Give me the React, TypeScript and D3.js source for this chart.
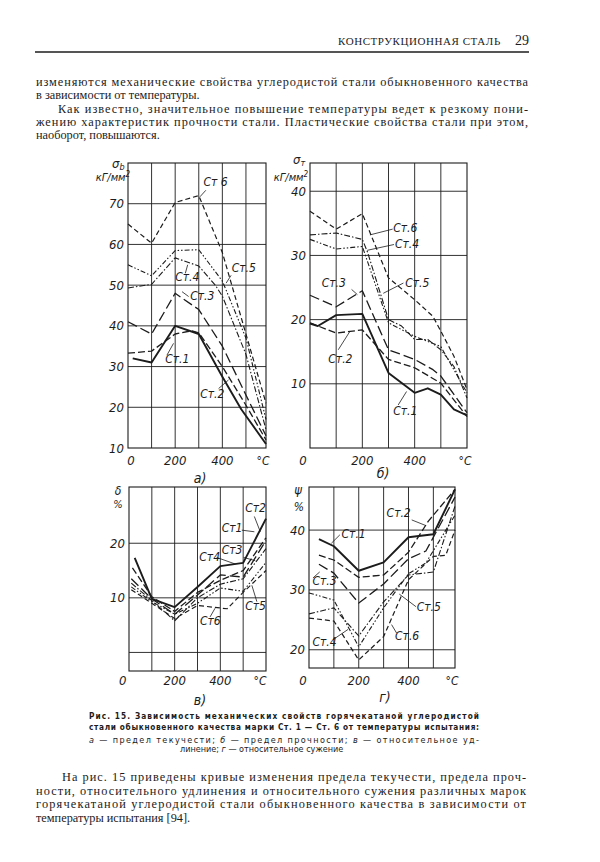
import React from "react";
import * as d3 from "d3";

type Pt = [number, number];

// ---------- data ----------
const steelNames = ["Ст1", "Ст2", "Ст3", "Ст4", "Ст5", "Ст6"];

// a) σb, kG/mm² vs °C
const sigmaBSeries: Pt[][] = [
  [[20, 32], [100, 31], [200, 40], [300, 38], [400, 27.5], [480, 19.5], [585, 11]],
  [[0, 33.3], [100, 33.8], [200, 38], [270, 38.8], [300, 38.3], [400, 30], [500, 20.5], [585, 12]],
  [[0, 41], [100, 38], [200, 48], [300, 44], [400, 35], [500, 23], [585, 13]],
  [[0, 49.3], [100, 50.2], [200, 56.7], [300, 54.7], [370, 50], [400, 47.3], [500, 33], [585, 14.5]],
  [[0, 55], [100, 52.3], [200, 58.5], [300, 58.7], [400, 51], [500, 37], [585, 17]],
  [[0, 65], [100, 60.3], [200, 70.3], [300, 72], [400, 58], [500, 38], [585, 21]],
];
const sigmaBTicks = [10, 20, 30, 40, 50, 60, 70];

// б) σт
const sigmaTSeries: Pt[][] = [
  [[0, 19.4], [30, 19], [100, 20.7], [200, 20.9], [300, 11.7], [400, 8.6], [450, 9.3], [500, 8.3], [550, 6], [600, 5.1]],
  [[0, 19.5], [100, 17.9], [200, 18.4], [300, 13.8], [400, 12.5], [500, 10.1], [600, 4.9]],
  [[0, 23.8], [100, 22], [200, 24.5], [300, 15.3], [400, 13.8], [470, 12.2], [500, 11.2], [600, 5.5]],
  [[0, 33.2], [100, 33.5], [200, 32.5], [220, 30.5], [300, 20], [350, 19], [400, 16.9], [450, 16.9], [500, 15.3], [550, 12.7], [600, 7.8]],
  [[0, 32.5], [100, 31], [200, 31.4], [300, 19.5], [400, 17.4], [500, 15.8], [600, 8.6]],
  [[0, 36.9], [100, 34.1], [200, 36.5], [300, 26.5], [400, 23.1], [470, 20.5], [500, 18.2], [550, 14.3], [600, 9.1]],
];
const sigmaTTicks = [10, 20, 30, 40];

// в) δ, %
const deltaSeries: Pt[][] = [
  [[25, 17.3], [100, 9.8], [200, 8.3], [300, 12], [400, 15.8], [500, 16.4], [600, 24.5]],
  [[15, 15.5], [100, 10.2], [200, 7.5], [300, 11], [400, 13.2], [500, 15], [600, 21]],
  [[10, 13.5], [100, 9.8], [200, 7], [300, 10.5], [400, 14.2], [500, 13.8], [600, 20.5]],
  [[10, 12.7], [100, 9.5], [200, 5.8], [300, 10], [400, 12.5], [500, 13.5], [600, 19]],
  [[10, 12], [100, 9.3], [200, 7], [300, 9], [400, 11.8], [500, 11.2], [600, 16.5]],
  [[10, 11.5], [100, 9], [200, 6.2], [300, 8.6], [430, 8], [500, 11], [600, 15]],
];
const deltaTicks = [10, 20];
const deltaGrid = [0, 10, 20];

// г) ψ, %
const psiSeries: Pt[][] = [
  [[40, 38.5], [100, 37.3], [200, 33.2], [300, 34.6], [400, 38.8], [500, 39.3], [587, 46.8]],
  [[40, 35.8], [100, 35], [200, 32.1], [300, 32.5], [400, 36.3], [480, 41.5], [587, 46.8]],
  [[40, 34.3], [100, 32.8], [200, 27.8], [300, 31], [400, 35.2], [470, 36.5], [587, 45.5]],
  [[0, 26], [100, 27], [200, 22.3], [300, 28], [400, 32.5], [500, 33], [587, 44]],
  [[0, 29.5], [100, 28.3], [200, 20.5], [300, 27], [400, 32.7], [470, 34.5], [587, 42.5]],
  [[0, 25.3], [100, 24.8], [200, 18.3], [300, 22.2], [400, 31.7], [500, 35.6], [550, 35.8], [587, 40]],
];
const psiTicks = [20, 30, 40];

const tempTickLabels = [200, 400];
const tempGrid = [100, 200, 300, 400, 500];

// labels: [text, textT, textV, leaderT1, leaderV1, leaderT2, leaderV2]
type Ann = [string, number, number, number, number, number, number];
const sigmaBLabels: Ann[] = [
  ["Ст 6", 320, 74.3, 330, 73.3, 305, 71.7],
  ["Ст.5", 440, 53.3, 437, 52.4, 416, 50.5],
  ["Ст.4", 200, 50.9, 243, 52.9, 253, 55],
  ["Ст.3", 264, 46.4, 257, 47.2, 229, 48.4],
  ["Ст.1", 158, 30.8, 165, 32.8, 193, 35.7],
  ["Ст.2", 306, 22.2, 384, 24.6, 426, 26.7],
];
const sigmaTLabels: Ann[] = [
  ["Ст.6", 318, 33.6, 316, 34.1, 229, 33.2],
  ["Ст.4", 325, 31.2, 321, 31.7, 219, 30.8],
  ["Ст.3", 45, 25.1, 159, 24.7, 181, 23.9],
  ["Ст.5", 364, 25.1, 357, 25.7, 280, 24.1],
  ["Ст.2", 70, 13.2, 108, 15.3, 153, 18.2],
  ["Ст.1", 318, 5.2, 337, 6.7, 369, 8.8],
];
const deltaLabels: Ann[] = [
  ["Ст2", 509, 25.8, 549, 24.9, 575, 22.1],
  ["Ст1", 406, 22.1, 494, 22.4, 549, 22.1],
  ["Ст3", 406, 18, 502, 17.4, 553, 16.8],
  ["Ст4", 308, 16.8, 384, 17.4, 465, 16.2],
  ["Ст5", 509, 7.8, 560, 9.3, 538, 12.3],
  ["Ст6", 311, 5.0, 355, 6.5, 377, 8.1],
];
const psiLabels: Ann[] = [
  ["Ст.1", 131, 38.6, 124, 39.2, 90, 37.8],
  ["Ст.2", 312, 42.2, 413, 41.7, 467, 40.8],
  ["Ст.3", 14, 30.8, 16, 32, 43, 33],
  ["Ст.4", 14, 20.6, 97, 21.7, 157, 23.4],
  ["Ст.5", 433, 26.4, 430, 27.2, 363, 29.3],
  ["Ст.6", 346, 21.7, 352, 22.8, 332, 24.2],
];

const topParagraph = [
  "изменяются механические свойства углеродистой стали обыкновенного качества",
  "в зависимости от температуры.",
  "Как известно, значительное повышение температуры ведет к резкому пони-",
  "жению характеристик прочности стали. Пластические свойства стали при этом,",
  "наоборот, повышаются.",
];
const bottomParagraph = [
  "На рис. 15 приведены кривые изменения предела текучести, предела проч-",
  "ности, относительного удлинения и относительного сужения различных марок",
  "горячекатаной углеродистой стали обыкновенного качества в зависимости от",
  "температуры испытания [94].",
];

// ---------- styles ----------
const INK = "#1c1c1c";
const dashes = ["", "7,3", "10,4", "6,2,1.5,2", "5,2,1.5,2,1.5,2", "5,3"];
const widths = [1.9, 1.3, 1.3, 1.1, 1.1, 1.2];
const chartFont = "'Liberation Sans Narrow', 'DejaVu Sans Condensed', 'Liberation Sans', sans-serif";
const serif = "'Liberation Serif', 'DejaVu Serif', serif";

type PanelProps = {
  left: number; top: number; width: number; height: number;
  xMax: number; yDomain: [number, number];
  series: Pt[][]; yTicks: number[]; yGrid: number[];
  labels: Ann[];
  zeroX: number; degX: number; xLabelY: number;
  yLabel: React.ReactNode; unitLabel: React.ReactNode;
  letter: string; letterX: number; letterY: number;
};

function Panel(p: PanelProps) {
  const x = d3.scaleLinear().domain([0, p.xMax]).range([p.left, p.left + p.width]);
  const y = d3.scaleLinear().domain(p.yDomain).range([p.top + p.height, p.top]);
  const line = d3.line<Pt>().x((d) => x(d[0])).y((d) => y(d[1]));
  return (
    <g>
      <rect x={p.left} y={p.top} width={p.width} height={p.height} fill="none" stroke={INK} strokeWidth={1.1} />
      {tempGrid.map((t) => (
        <line key={"v" + t} x1={x(t)} x2={x(t)} y1={p.top} y2={p.top + p.height} stroke={INK} strokeWidth={0.9} />
      ))}
      {p.yGrid.map((v) => (
        <line key={"h" + v} x1={p.left} x2={p.left + p.width} y1={y(v)} y2={y(v)} stroke={INK} strokeWidth={0.9} />
      ))}
      {p.series.map((s, i) => (
        <path key={steelNames[i]} d={line(s) || ""} fill="none" stroke={INK} strokeWidth={widths[i]}
          strokeDasharray={dashes[i]} strokeLinejoin="round" />
      ))}
      {p.labels.map((a, i) => (
        <g key={"l" + i}>
          <line x1={x(a[3])} y1={y(a[4])} x2={x(a[5])} y2={y(a[6])} stroke={INK} strokeWidth={0.8} />
          <text x={x(a[1])} y={y(a[2])} fontSize={12} fontStyle="italic" fontFamily={chartFont} fill={INK}>{a[0]}</text>
        </g>
      ))}
      {p.yTicks.map((v) => (
        <text key={"t" + v} x={p.left - 4} y={y(v) + 4.5} textAnchor="end" fontSize={13} fontStyle="italic"
          fontFamily={chartFont} fill={INK}>{v}</text>
      ))}
      <text x={p.zeroX} y={p.xLabelY} textAnchor="middle" fontSize={13} fontStyle="italic" fontFamily={chartFont} fill={INK}>0</text>
      {tempTickLabels.map((t) => (
        <text key={"x" + t} x={x(t)} y={p.xLabelY} textAnchor="middle" fontSize={13} fontStyle="italic"
          fontFamily={chartFont} fill={INK}>{t}</text>
      ))}
      <text x={p.degX} y={p.xLabelY} textAnchor="middle" fontSize={12} fontStyle="italic" fontFamily={chartFont} fill={INK}>°C</text>
      {p.yLabel}
      {p.unitLabel}
      <text x={p.letterX} y={p.letterY} textAnchor="middle" fontSize={14} fontStyle="italic" fontFamily={chartFont} fill={INK}>{p.letter}</text>
    </g>
  );
}

function Justified({ lines, x0, firstIndent, right, ys, size, justifyAll }:
  { lines: string[]; x0: number; firstIndent: number[]; right: number; ys: number[]; size: number; justifyAll: boolean[] }) {
  return (
    <g fontFamily={serif} fontSize={size} fill={INK}>
      {lines.map((l, i) => (
        <text key={i} x={x0 + firstIndent[i]} y={ys[i]}
          {...(justifyAll[i] ? { textLength: right - x0 - firstIndent[i], lengthAdjust: "spacing" } : {})}>{l}</text>
      ))}
    </g>
  );
}

export default function App() {
  const it = { fontStyle: "italic" as const };
  return (
    <svg width={600} height={862} style={{ position: "absolute", left: 0, top: 0, background: "#fff" }}>
      <rect width={600} height={862} fill="#fff" />
      {/* header */}
      <text x={501} y={45} textAnchor="end" fontFamily={serif} fontSize={11} letterSpacing={0.8} fill={INK}
        textLength={163} lengthAdjust="spacing">КОНСТРУКЦИОННАЯ СТАЛЬ</text>
      <text x={529} y={45} textAnchor="end" fontFamily={serif} fontSize={14} fill={INK}>29</text>
      <line x1={35} x2={529} y1={52} y2={52} stroke={INK} strokeWidth={1.4} />

      <Justified lines={topParagraph} x0={36} firstIndent={[0, 0, 22, 0, 0]} right={528}
        ys={[86, 99, 112.5, 125.5, 139]} size={12.3} justifyAll={[true, false, true, true, false]} />

      <Panel left={128} top={163} width={138} height={285} xMax={585} yDomain={[10, 80]}
        series={sigmaBSeries} yTicks={sigmaBTicks} yGrid={[20, 30, 40, 50, 60, 70]} labels={sigmaBLabels}
        zeroX={131} degX={263} xLabelY={465}
        yLabel={<text x={112} y={168} fontSize={13} fontFamily={chartFont} fill={INK} {...it}>σ<tspan fontSize={9} dy={2}>b</tspan></text>}
        unitLabel={<text x={113} y={181} textAnchor="middle" fontSize={11} fontFamily={chartFont} fill={INK} {...it}>кГ/мм<tspan fontSize={8} dy={-4}>2</tspan></text>}
        letter="а)" letterX={200} letterY={483} />

      <Panel left={310} top={163} width={157} height={285} xMax={600} yDomain={[0, 44.4]}
        series={sigmaTSeries} yTicks={sigmaTTicks} yGrid={[10, 20, 30, 40]} labels={sigmaTLabels}
        zeroX={303} degX={465} xLabelY={465}
        yLabel={<text x={293} y={164} fontSize={13} fontFamily={chartFont} fill={INK} {...it}>σ<tspan fontSize={9} dy={2}>т</tspan></text>}
        unitLabel={<text x={291} y={181} textAnchor="middle" fontSize={11} fontFamily={chartFont} fill={INK} {...it}>кГ/мм<tspan fontSize={8} dy={-4}>2</tspan></text>}
        letter="б)" letterX={383} letterY={478} />

      <Panel left={129} top={487} width={137} height={184} xMax={600} yDomain={[-3.4, 30.3]}
        series={deltaSeries} yTicks={deltaTicks} yGrid={deltaGrid} labels={deltaLabels}
        zeroX={122.7} degX={260} xLabelY={685}
        yLabel={<text x={118} y={495} textAnchor="middle" fontSize={12} fontFamily={chartFont} fill={INK} {...it}>δ</text>}
        unitLabel={<text x={118} y={508} textAnchor="middle" fontSize={11} fontFamily={chartFont} fill={INK} {...it}>%</text>}
        letter="в)" letterX={200} letterY={705} />

      <Panel left={309} top={487} width={146} height={181} xMax={587} yDomain={[16.95, 47.2]}
        series={psiSeries} yTicks={psiTicks} yGrid={[20, 30, 40]} labels={psiLabels}
        zeroX={303} degX={452} xLabelY={685}
        yLabel={<text x={298} y={494} textAnchor="middle" fontSize={13} fontFamily={chartFont} fill={INK} {...it}>ψ</text>}
        unitLabel={<text x={299} y={511} textAnchor="middle" fontSize={12} fontFamily={chartFont} fill={INK} {...it}>%</text>}
        letter="г)" letterX={385} letterY={702} />

      {/* caption */}
      <g fontFamily="'DejaVu Sans Condensed', 'DejaVu Sans', sans-serif" fill={INK}>
        <text x={89} y={718.5} fontSize={8.2} fontWeight="bold" textLength={390} lengthAdjust="spacing">
          Рис. 15. Зависимость механических свойств горячекатаной углеродистой</text>
        <text x={89} y={730} fontSize={8.2} fontWeight="bold" textLength={390} lengthAdjust="spacing">
          стали обыкновенного качества марки Ст. 1 — Ст. 6 от температуры испытания:</text>
        <text x={89} y={742.5} fontSize={9} textLength={390} lengthAdjust="spacing">
          <tspan fontStyle="italic">а</tspan> — предел текучести; <tspan fontStyle="italic">б</tspan> — предел прочности; <tspan fontStyle="italic">в</tspan> — относительное уд-</text>
        <text x={180} y={752} fontSize={9}>линение; <tspan fontStyle="italic">г</tspan> — относительное сужение</text>
      </g>

      <Justified lines={bottomParagraph} x0={36} firstIndent={[26, 0, 0, 0]} right={526}
        ys={[781, 794.5, 808, 821.5]} size={12.3} justifyAll={[true, true, true, false]} />
    </svg>
  );
}
